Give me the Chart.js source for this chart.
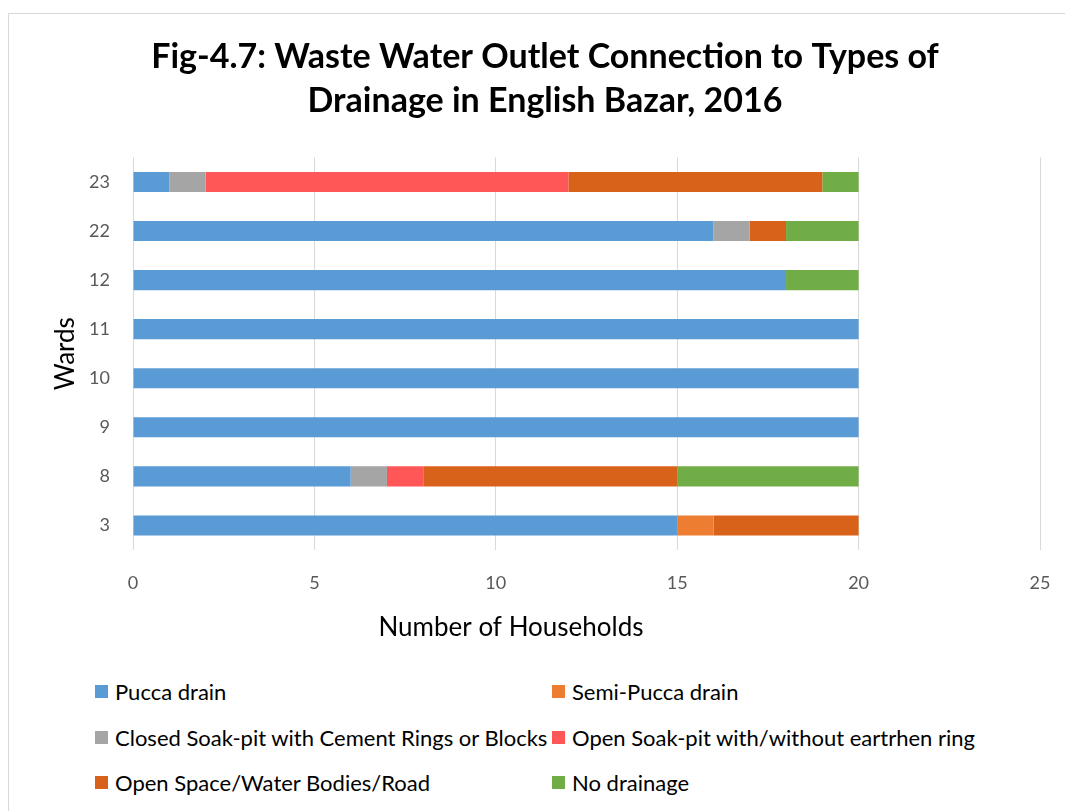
<!DOCTYPE html>
<html>
<head>
<meta charset="utf-8">
<script src="https://cdn.jsdelivr.net/npm/chart.js@4.4.1/dist/chart.umd.min.js"></script>
<style>
  html, body {
    margin: 0;
    padding: 0;
    width: 1065px;
    height: 811px;
    overflow: hidden;
    background: #ffffff;
    font-family: Lato, "Open Sans", sans-serif;
  }
  .frame {
    position: absolute;
    left: 8px;
    top: 13px;
    width: 1074px;
    height: 820px;
    border: 1px solid #d9d9d9;
    box-sizing: border-box;
  }
  .plot {
    position: absolute;
    left: 8px;
    top: 13px;
    width: 1074px;
    height: 640px;
  }
  #legend {
    position: absolute;
    left: 95px;
    top: 669px;
    display: grid;
    grid-template-columns: 457px auto;
    grid-auto-rows: 45.5px;
    font-size: 22px;
    color: #000000;
  }
  .item {
    display: flex;
    align-items: center;
    white-space: nowrap;
  }
  .box {
    width: 13px;
    height: 13px;
    margin-right: 7px;
  }
</style>
</head>
<body>
<div class="frame"></div>
<div class="plot"><canvas id="drainChart"></canvas></div>
<div id="legend"></div>

<script>
const wards = ["23", "22", "12", "11", "10", "9", "8", "3"];

const puccaDrain = [1, 16, 18, 20, 20, 20, 6, 15];
const semiPuccaDrain = [0, 0, 0, 0, 0, 0, 0, 1];
const closedSoakPit = [1, 1, 0, 0, 0, 0, 1, 0];
const openSoakPit = [10, 0, 0, 0, 0, 0, 1, 0];
const openSpace = [7, 1, 0, 0, 0, 0, 7, 4];
const noDrainage = [1, 2, 2, 0, 0, 0, 5, 0];

const xTicks = [0, 5, 10, 15, 20, 25];

const seriesNames = [
  "Pucca drain",
  "Semi-Pucca drain",
  "Closed Soak-pit with Cement Rings or Blocks",
  "Open Soak-pit with/without eartrhen ring",
  "Open Space/Water Bodies/Road",
  "No drainage",
];
const seriesValues = [puccaDrain, semiPuccaDrain, closedSoakPit, openSoakPit, openSpace, noDrainage];
const seriesColors = ["#5b9bd5", "#ed7d31", "#a5a5a5", "#ff5757", "#d9621a", "#70ad47"];

const fontFamily = "Lato, 'Open Sans', sans-serif";

// Excel puts the x-axis title left of the plot centre, so draw it by hand
const xTitlePlugin = {
  id: "xTitle",
  afterDraw(chart) {
    const c = chart.ctx;
    c.save();
    c.font = "26px " + fontFamily;
    c.fillStyle = "#000000";
    c.textAlign = "center";
    c.textBaseline = "middle";
    c.fillText("Number of Households", 503, chart.chartArea.bottom + 78);
    c.restore();
  },
};

const ctx = document.getElementById("drainChart").getContext("2d");
const drainChart = new Chart(ctx, {
  type: "bar",
  data: {
    labels: wards,
    datasets: seriesNames.map((name, i) => ({
      label: name,
      data: seriesValues[i],
      backgroundColor: seriesColors[i],
      borderWidth: 0,
      categoryPercentage: 1,
      barPercentage: 0.41,
    })),
  },
  options: {
    indexAxis: "y",
    responsive: true,
    maintainAspectRatio: false,
    animation: false,
    layout: {
      padding: { left: 42, right: 42, top: 0, bottom: 0 },
    },
    plugins: {
      legend: { display: false },
      tooltip: { enabled: false },
      title: {
        display: true,
        text: [
          "Fig-4.7: Waste Water Outlet Connection to Types of",
          "Drainage in English Bazar, 2016",
        ],
        color: "#000000",
        font: { family: fontFamily, size: 34, weight: "bold", lineHeight: 1.3 },
        padding: { top: 22, bottom: 34 },
      },
    },
    scales: {
      x: {
        stacked: true,
        min: 0,
        max: 25,
        afterBuildTicks: (scale) => {
          scale.ticks = xTicks.map((v) => ({ value: v }));
        },
        afterFit: (scale) => {
          scale.height = 103;
        },
        grid: { color: "#d9d9d9", lineWidth: 1, drawTicks: false },
        border: { display: false },
        ticks: {
          color: "#595959",
          font: { family: fontFamily, size: 18 },
          padding: 22,
        },
      },
      y: {
        stacked: true,
        afterFit: (scale) => {
          scale.width = 83;
        },
        grid: { display: false, drawTicks: false },
        border: { display: false },
        ticks: {
          color: "#595959",
          font: { family: fontFamily, size: 18 },
          padding: 23,
        },
        title: {
          display: true,
          text: "Wards",
          color: "#000000",
          font: { family: fontFamily, size: 26 },
          padding: { top: 0, bottom: 0 },
        },
      },
    },
  },
  plugins: [xTitlePlugin],
});

// legend in two columns, built from the chart's datasets
const legendEl = document.getElementById("legend");
drainChart.data.datasets.forEach((ds) => {
  const item = document.createElement("div");
  item.className = "item";
  const box = document.createElement("span");
  box.className = "box";
  box.style.background = ds.backgroundColor;
  const text = document.createElement("span");
  text.textContent = ds.label;
  item.appendChild(box);
  item.appendChild(text);
  legendEl.appendChild(item);
});
</script>
</body>
</html>
